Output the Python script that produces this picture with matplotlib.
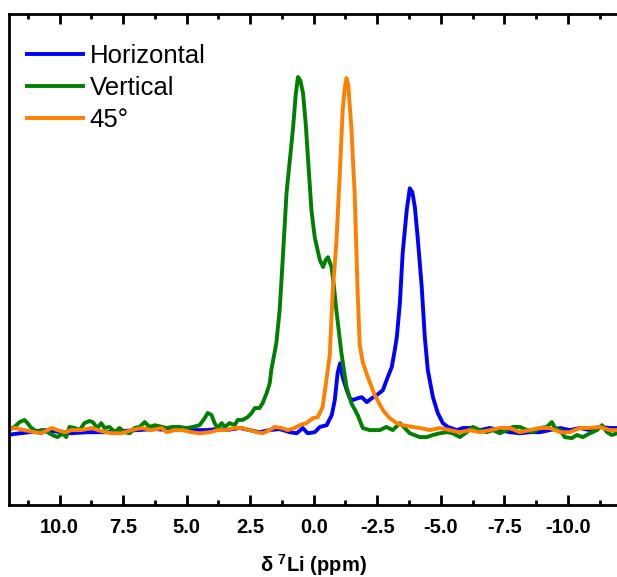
import matplotlib
matplotlib.use("Agg")
import matplotlib.pyplot as plt
import numpy as np

plt.rcParams["font.family"] = ["Liberation Sans", "DejaVu Sans"]
plt.rcParams["mathtext.fontset"] = "custom"
plt.rcParams["mathtext.bf"] = "Liberation Sans:bold"
plt.rcParams["mathtext.rm"] = "Liberation Sans"

# 7Li spectra, shift in ppm and intensity in arbitrary units
horizontal_ppm = [12.05, 11.77, 11.18, 10.59, 9.92, 9.53, 8.90, 8.23, 7.56, 6.93, 6.26, 5.67,
                  5.28, 4.76, 4.21, 3.82, 3.43, 2.91, 2.52, 2.13, 1.73, 1.34, 0.94, 0.67,
                  0.43, 0.24, -0.04, -0.24, -0.51, -0.71, -0.83, -0.94, -1.04, -1.14, -1.30,
                  -1.42, -1.54, -1.73, -1.89, -2.09, -2.28, -2.48, -2.72, -2.91, -3.07, -3.19,
                  -3.27, -3.39, -3.50, -3.66, -3.78, -3.88, -3.98, -4.09, -4.25, -4.37, -4.49,
                  -4.69, -4.88, -5.08, -5.28, -5.63, -5.87, -6.14, -6.54, -6.93, -7.32, -7.72,
                  -8.11, -8.50, -8.90, -9.29, -9.69, -10.08, -10.47, -10.87, -11.26, -11.65,
                  -11.93]
horizontal_int = [-1.4, -1.1, -0.6, 0.0, -0.6, -0.9, -0.6, -0.6, -0.3, 0.0, 0.3, 0.0,
                  0.0, 0.0, 0.0, 0.3, 0.0, 0.6, 0.0, -0.6, 0.0, 0.3, -0.6, -0.9,
                  0.6, -0.9, -0.6, 0.9, 1.4, 4.3, 8.6, 16.3, 19.1, 15.1, 11.4,
                  9.1, 8.6, 9.1, 9.4, 8.0, 9.1, 10.0, 11.4, 15.1, 18.0, 22.9,
                  26.6, 36.3, 50.6, 62.9, 69.1, 68.0, 63.7, 55.1, 40.9, 26.6, 17.1,
                  9.4, 4.9, 2.0, 0.9, 0.0, 0.6, 0.6, 0.0, 0.6, 0.0, -0.6,
                  -0.9, -0.6, -0.6, 0.0, 0.6, 0.0, 0.6, 0.0, 0.9, 0.6,
                  0.6]

vertical_ppm = [12.04, 11.77, 11.57, 11.38, 11.26, 11.11, 10.98, 10.87, 10.72, 10.47, 10.28,
                10.08, 9.88, 9.74, 9.61, 9.41, 9.21, 9.02, 8.82, 8.70, 8.50, 8.36, 8.23,
                8.03, 7.83, 7.64, 7.44, 7.24, 7.05, 6.85, 6.65, 6.46, 6.26, 6.06, 5.79,
                5.55, 5.28, 5.00, 4.76, 4.49, 4.29, 4.17, 4.02, 3.90, 3.78, 3.62, 3.50,
                3.31, 3.11, 2.99, 2.80, 2.60, 2.44, 2.32, 2.13, 2.01, 1.85, 1.73, 1.67,
                1.47, 1.34, 1.22, 1.07, 0.94, 0.81, 0.71, 0.62, 0.53, 0.42, 0.31, 0.22,
                0.09, -0.04, -0.24, -0.37, -0.47, -0.56, -0.70, -0.79, -0.89, -1.09, -1.29,
                -1.48, -1.73, -1.93, -2.20, -2.60, -2.86, -3.11, -3.39, -3.58, -3.78, -4.17,
                -4.45, -4.69, -4.96, -5.24, -5.47, -5.75, -6.02, -6.26, -6.54, -6.81, -7.05,
                -7.32, -7.60, -7.83, -8.11, -8.39, -8.62, -8.90, -9.17, -9.37, -9.49, -9.69,
                -9.88, -10.16, -10.35, -10.59, -10.87, -11.14, -11.34, -11.54, -11.73, -11.93]
vertical_int = [0.0, 0.9, 2.3, 2.9, 2.0, 0.6, 0.0, -0.6, 0.0, -0.6, -1.4,
                -2.0, -0.9, -2.0, 0.9, 0.6, 0.0, 2.0, 2.6, 2.3, 0.6, 2.0, 0.6,
                0.9, -0.6, 0.6, -0.6, -0.9, 0.6, 0.9, 2.3, 0.9, 1.4, 1.1, 0.6,
                0.9, 0.9, 0.6, 0.9, 1.4, 3.4, 4.9, 4.3, 2.0, 0.6, 2.0, 0.9,
                2.0, 1.4, 2.9, 2.9, 3.7, 4.9, 6.3, 6.3, 7.7, 10.6, 13.4, 17.1,
                24.9, 34.3, 48.6, 67.7, 77.1, 86.6, 95.7, 100.9, 100.0, 96.3, 87.1, 77.1,
                62.9, 55.1, 48.6, 46.6, 48.6, 49.4, 46.6, 41.4, 34.3, 22.0, 12.3,
                7.7, 4.3, 0.6, 0.0, 0.0, 0.9, 0.0, 2.0, 0.6, -0.9, -2.0,
                -2.0, -1.4, -0.9, -0.6, -0.9, -2.0, -0.6, 0.9, 0.0, -0.6, 0.0,
                -0.9, 0.0, 0.9, 0.9, 0.0, -0.6, 0.6, 0.9, 2.3, 0.6, 0.0,
                -2.0, -2.3, -1.4, -2.0, -0.9, 0.0, 1.4, -0.6, -1.4, -0.9]

deg45_ppm = [12.05, 11.77, 11.38, 10.98, 10.71, 10.31, 10.08, 9.80, 9.53, 9.13, 8.74, 8.35,
             7.95, 7.56, 7.17, 6.77, 6.38, 5.98, 5.79, 5.47, 5.16, 4.80, 4.49, 4.09,
             3.78, 3.43, 3.11, 2.80, 2.52, 2.24, 2.01, 1.73, 1.54, 1.26, 1.02, 0.75,
             0.55, 0.28, 0.04, -0.16, -0.35, -0.50, -0.63, -0.75, -0.89, -1.02, -1.14,
             -1.22, -1.29, -1.36, -1.48, -1.61, -1.73, -1.81, -1.93, -2.13, -2.40, -2.72,
             -2.99, -3.27, -3.50, -3.90, -4.17, -4.57, -4.96, -5.35, -5.75, -6.14, -6.54,
             -6.93, -7.32, -7.72, -8.11, -8.50, -8.90, -9.29, -9.69, -10.08, -10.47, -10.87,
             -11.26, -11.65, -11.93]
deg45_int = [0.0, 0.6, 0.0, -0.6, -0.9, 0.6, 0.0, -0.6, 0.0, 0.0, 0.6, -0.3,
             -0.9, -0.9, 0.0, 0.6, 0.0, 0.6, -0.6, 0.0, 0.0, -0.6, -0.9, -0.6,
             0.0, 0.0, 0.6, 0.6, 0.0, -0.6, -0.9, 0.0, 0.9, 0.6, 0.0, 0.6,
             1.4, 2.0, 3.4, 3.7, 6.6, 14.3, 21.4, 40.0, 53.4, 72.3, 91.4,
             97.7, 100.6, 98.6, 86.6, 67.7, 39.1, 24.3, 19.4, 15.1, 10.0, 5.7,
             3.4, 2.0, 1.4, 0.9, 0.6, 0.0, 0.6, 0.0, -0.6, 0.0, -0.6,
             0.0, 0.6, 0.6, -0.6, 0.0, 0.6, 0.6, -0.6, -0.6, 0.6, 0.6,
             0.9, 0.0, 0.0]

series = [
    ("Horizontal", horizontal_ppm, horizontal_int, "#0000ff"),
    ("Vertical", vertical_ppm, vertical_int, "#008000"),
    ("45°", deg45_ppm, deg45_int, "#ff8000"),
]

fig = plt.figure(figsize=(6.17, 5.77), dpi=100)
ax = fig.add_axes([0.0141, 0.1248, 0.9887, 0.8509])

for name, x, y, c in series:
    ax.plot(x, y, color=c, lw=2.8, label=name, solid_joinstyle="round")

ax.set_xlim(12.0, -12.0)
ax.set_ylim(-21.4, 118.9)
ax.set_xticks(np.arange(10, -10.1, -2.5))
ax.set_xticks(np.arange(11.25, -12, -2.5), minor=True)
ax.xaxis.set_major_formatter(matplotlib.ticker.FormatStrFormatter("%.1f"))
ax.set_yticks([])

for s in ax.spines.values():
    s.set_linewidth(2.0)
ax.tick_params(axis="x", which="both", direction="in", top=True, width=2.0, pad=9.5,
               labelsize=14.5)
ax.tick_params(axis="x", which="major", length=7)
ax.tick_params(axis="x", which="minor", length=3.5)
for lab in ax.get_xticklabels():
    lab.set_fontweight("bold")

ax.set_xlabel(r"δ $^{\mathbf{7}}$Li (ppm)", fontsize=14.5, fontweight="bold", labelpad=11)

ax.legend(loc="upper left", bbox_to_anchor=(0.0, 0.975), frameon=False, fontsize=18.5,
          handlelength=2.2, handletextpad=0.25, labelspacing=0.3, borderaxespad=0.3)

fig.savefig("out.png", dpi=100)
